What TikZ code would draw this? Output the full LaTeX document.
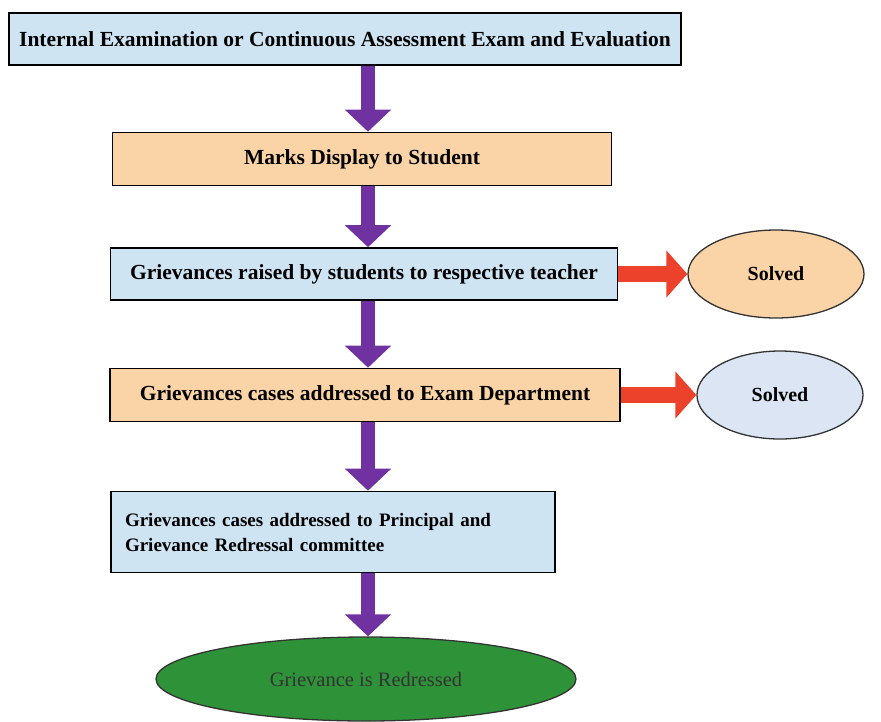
\documentclass[tikz,border=0pt]{standalone}
\usepackage{fontspec}
\setmainfont{Liberation Serif}
\usepackage{tikz}
\usetikzlibrary{arrows.meta,shapes.geometric}

\definecolor{boxblue}{RGB}{206,228,243}
\definecolor{boxorange}{RGB}{250,211,166}
\definecolor{ovalblue}{RGB}{219,229,243}
\definecolor{arrowpurple}{RGB}{112,50,160}
\definecolor{arrowred}{RGB}{236,66,44}
\definecolor{ovalgreen}{RGB}{46,146,56}

\begin{document}
\begin{tikzpicture}[x=1pt,y=-1pt,
  stage/.style={draw=black,line width=1.6pt,inner sep=0pt,
    font=\fontsize{21.5}{29}\selectfont\bfseries},
  oval/.style={ellipse,draw=black!80,line width=1.3pt,inner sep=0pt,
    font=\fontsize{20}{24}\selectfont\bfseries},
  down/.style={arrowpurple,line width=14pt,
    -{Triangle[width=45pt,length=22pt]}},
  side/.style={arrowred,line width=16pt,
    -{Triangle[width=46pt,length=21pt]}}]
\useasboundingbox (0,0) rectangle (881,721);
\coordinate (spine) at (368,0);

\node[stage,fill=boxblue,minimum width=672pt,minimum height=52pt]
  (exam) at (345,39) {Internal Examination or Continuous Assessment Exam and Evaluation};
\node[stage,fill=boxorange,minimum width=499pt,minimum height=53pt]
  (marks) at (362,159) {Marks Display to Student};
\node[stage,fill=boxblue,minimum width=507pt,minimum height=52pt]
  (teacher) at (364,274) {Grievances raised by students to respective teacher};
\node[stage,fill=boxorange,minimum width=510pt,minimum height=53pt]
  (dept) at (365,395) {Grievances cases addressed to Exam Department};
\node[stage,fill=boxblue,minimum width=444pt,minimum height=81pt,
  align=left,text width=416pt,font=\fontsize{19}{25}\selectfont\bfseries]
  (principal) at (333,532) {Grievances cases addressed to Principal and\\Grievance Redressal committee\\[5pt]};

\node[oval,fill=boxorange,minimum width=176pt,minimum height=88pt]
  (solvedA) at (776,274) {Solved};
\node[oval,fill=ovalblue,minimum width=166pt,minimum height=88pt]
  (solvedB) at (780,395) {Solved};
\node[oval,fill=ovalgreen,text=black!80,minimum width=420pt,minimum height=84pt,
  font=\fontsize{20.5}{24}\selectfont]
  (redressed) at (366,679) {Grievance is Redressed};

\draw[down] (exam.south -| spine) -- (marks.north -| spine);
\draw[down] (marks.south -| spine) -- (teacher.north -| spine);
\draw[down] (teacher.south -| spine) -- (dept.north -| spine);
\draw[down] (dept.south -| spine) -- (principal.north -| spine);
\draw[down] (principal.south -| spine) -- (redressed.north -| spine);

\draw[side] (teacher.east) -- (solvedA.west);
\draw[side] (dept.east) -- (solvedB.west);

\end{tikzpicture}
\end{document}
